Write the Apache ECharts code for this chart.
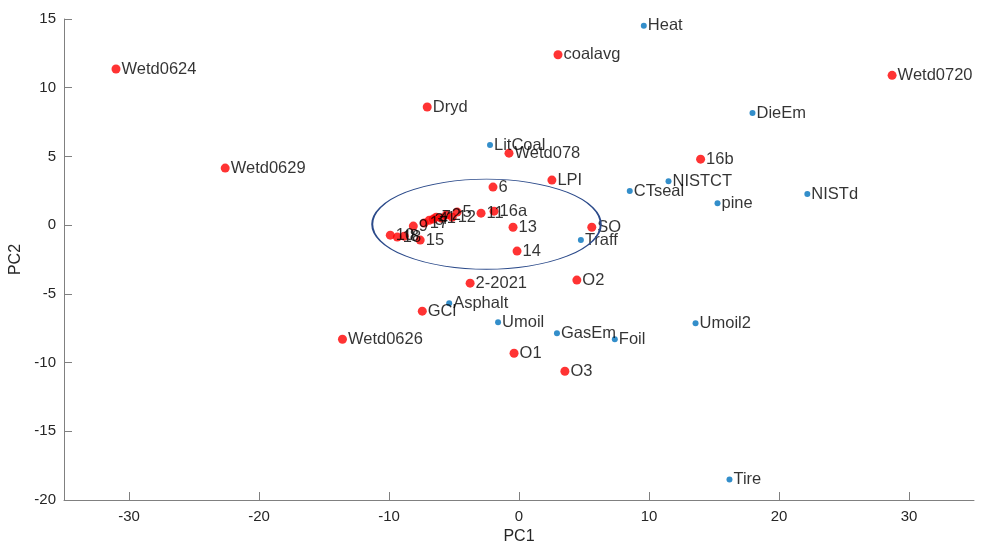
<!DOCTYPE html>
<html>
<head>
<meta charset="utf-8">
<script src="https://cdn.jsdelivr.net/npm/echarts@6/dist/echarts.min.js"></script>
<style>
html,body{margin:0;padding:0;background:#fff;}
#pcaChart{width:982px;height:546px;}
</style>
</head>
<body>
<div id="pcaChart"></div>
<script>
// samples (red)
var redNames = ['Wetd0624','Wetd0720','coalavg','Dryd','Wetd0629','Wetd078','16b','LPI','6','16a','11','13','14','SO','O2','2-2021','GCl','Wetd0626','O1','O3',
    '10','18','8','15','9','17','3','4','7','1','2','12','5'];
var redX = [-31.0,28.7,3.0,-7.06,-22.6,-0.77,13.97,2.53,-2.0,-1.92,-2.92,-0.46,-0.15,5.6,4.45,-3.76,-7.44,-13.58,-0.38,3.53,
    -9.9,-9.36,-8.83,-7.6,-8.13,-7.29,-6.9,-6.6,-6.37,-5.99,-5.6,-5.14,-4.76];
var redY = [11.36,10.9,12.4,8.6,4.15,5.24,4.8,3.28,2.77,1.02,0.87,-0.15,-1.89,-0.15,-4.0,-4.22,-6.26,-8.3,-9.32,-10.63,
    -0.73,-0.87,-0.8,-1.09,-0.07,0.15,0.36,0.44,0.58,0.51,0.73,0.58,0.95];
// sources (blue)
var blueNames = ['Heat','DieEm','LitCoal','CTseal','NISTCT','pine','NISTd','Traff','Asphalt','Umoil','GasEm','Foil','Umoil2','Tire'];
var blueX = [9.6,17.96,-2.23,8.52,11.5,15.27,22.18,4.76,-5.37,-1.61,2.92,7.37,13.58,16.19];
var blueY = [14.5,8.16,5.83,2.48,3.2,1.6,2.26,-1.09,-5.68,-7.07,-7.87,-8.3,-7.14,-18.5];
// tick labels
var xTicks = [-30,-20,-10,0,10,20,30];
var yTicks = [-20,-15,-10,-5,0,5,10,15];
// ellipse round the cluster: centre and half axes in data units
var ellCenter = [-2.5, 0.07];
var ellRadius = [8.79, 3.28];

function toPts(names, xs, ys){
    var out = [];
    for (var i = 0; i < names.length; i++) {
        out.push({value:[xs[i], ys[i]], name:names[i]});
    }
    return out;
}

var myChart = echarts.init(document.getElementById('pcaChart'));
var fontFam = 'Liberation Sans, Arial, sans-serif';
var lblStyle = {show:true, position:'right', distance:1, formatter:'{b}', color:'#000', fontSize:16.5, fontFamily:fontFam};

option = {
    animation:false,
    grid:{left:64, right:8, top:19, bottom:46, outerBoundsMode:'none', containLabel:false},
    xAxis:{
        type:'value', min:-35, max:35,
        name:'PC1', nameLocation:'middle', nameGap:22,
        nameTextStyle:{color:'#262626', fontSize:16, fontFamily:fontFam},
        axisLine:{show:true, onZero:false, lineStyle:{color:'#808080'}},
        axisTick:{show:true, inside:true, length:8, customValues:xTicks, lineStyle:{color:'#808080'}},
        axisLabel:{color:'#262626', fontSize:15, fontFamily:fontFam, customValues:xTicks, margin:9},
        splitLine:{show:false}
    },
    yAxis:{
        type:'value', min:-20, max:15, interval:5,
        name:'PC2', nameLocation:'middle', nameGap:28,
        nameTextStyle:{color:'#262626', fontSize:16, fontFamily:fontFam},
        axisLine:{show:true, onZero:false, lineStyle:{color:'#808080'}},
        axisTick:{show:true, inside:true, length:8, customValues:yTicks, lineStyle:{color:'#808080'}},
        axisLabel:{color:'#262626', fontSize:15, fontFamily:fontFam, customValues:yTicks, margin:8},
        splitLine:{show:false}
    },
    series:[
        {
            name:'sources', type:'scatter', symbolSize:6,
            itemStyle:{color:'#0072bd'},
            label:lblStyle,
            data:toPts(blueNames, blueX, blueY)
        },
        {
            name:'samples', type:'scatter', symbolSize:9,
            itemStyle:{color:'#ff0000'},
            label:lblStyle,
            data:toPts(redNames, redX, redY)
        }
    ]
};
myChart.setOption(option);

// ellipse drawn after the axes exist
var c = myChart.convertToPixel({gridIndex:0}, ellCenter);
var e = myChart.convertToPixel({gridIndex:0}, [ellCenter[0] + ellRadius[0], ellCenter[1] + ellRadius[1]]);
var rx = Math.abs(e[0] - c[0]), ry = Math.abs(e[1] - c[1]);
myChart.setOption({
    graphic:[{
        type:'circle', x:c[0], y:c[1], scaleX:1, scaleY:ry / rx,
        shape:{cx:0, cy:0, r:rx},
        style:{fill:'none', stroke:'#2b4a8a', lineWidth:2},
        strokeNoScale:true,
        z:10
    }]
});
</script>
</body>
</html>
